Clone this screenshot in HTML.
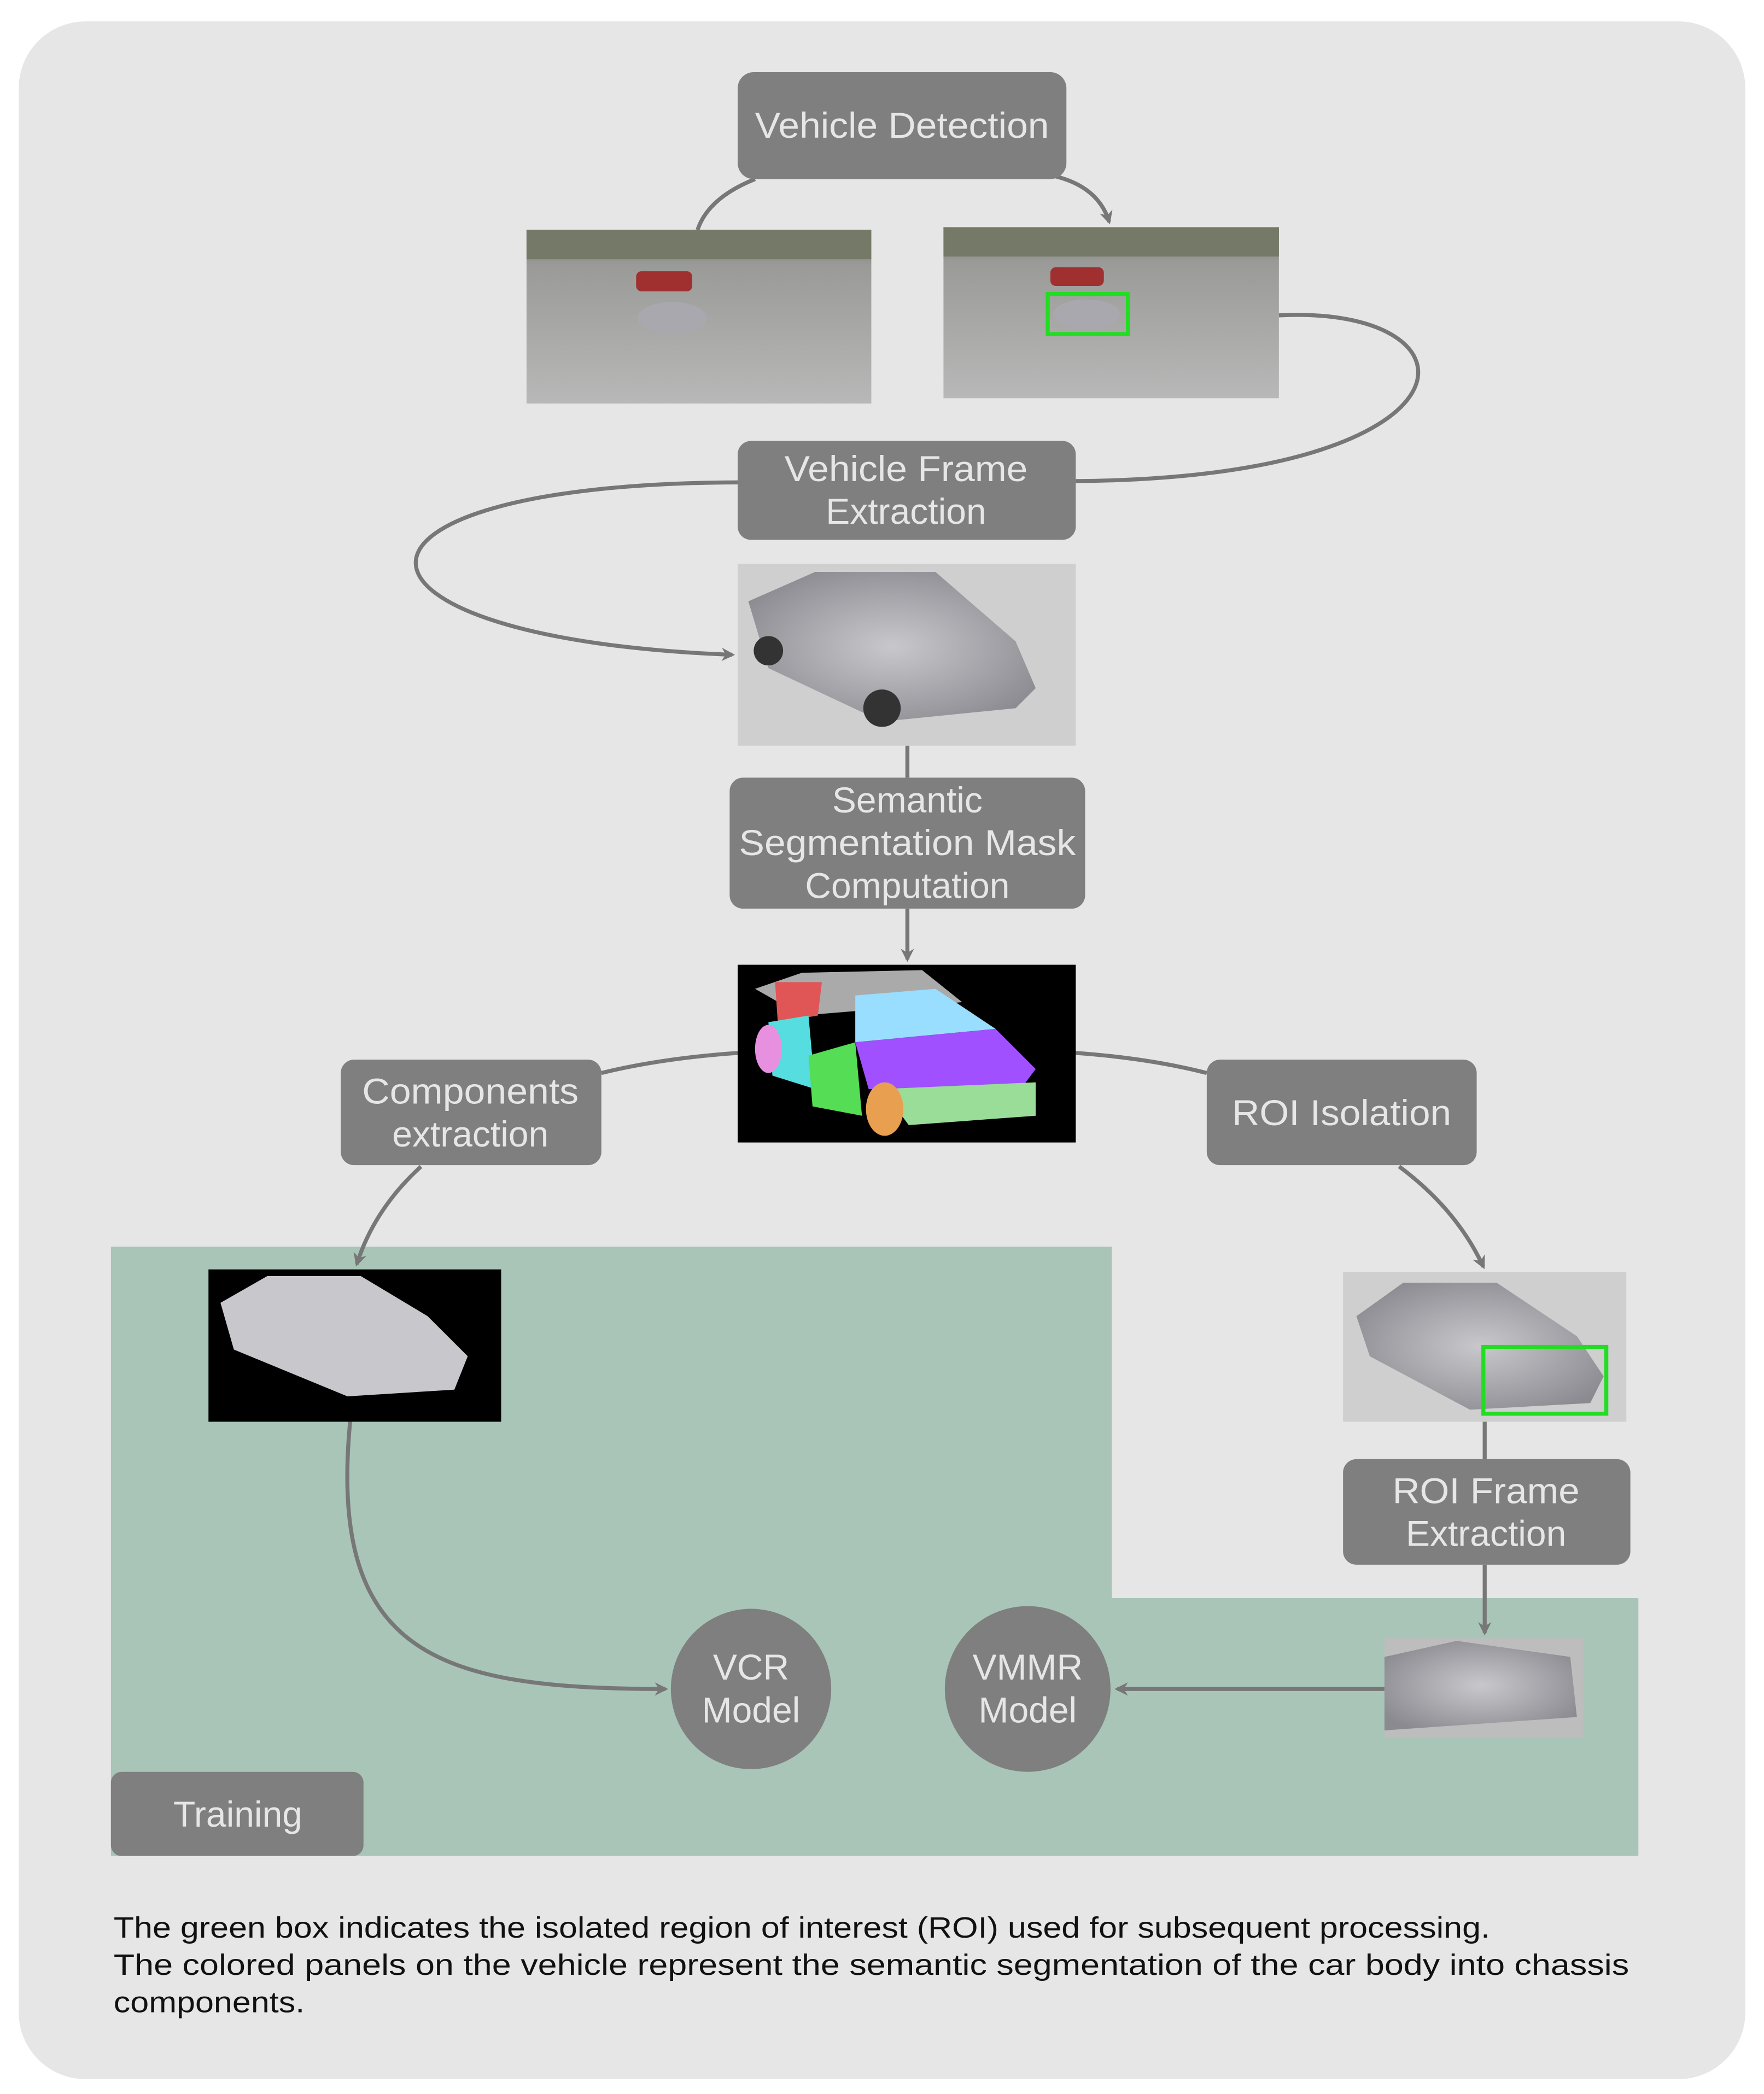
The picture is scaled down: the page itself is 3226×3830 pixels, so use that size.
<!DOCTYPE html>
<html><head><style>html,body{margin:0;padding:0;background:#fff}svg{display:block}</style></head><body>
<svg width="3226" height="3830" viewBox="0 0 1320 1567.1" xmlns="http://www.w3.org/2000/svg" font-family="Liberation Sans, sans-serif">
<defs>
<marker id="a" markerWidth="10" markerHeight="10" refX="8" refY="5" orient="auto" markerUnits="userSpaceOnUse"><path d="M0,0 L10,5 L0,10 L3,5 z" fill="#777"/></marker>
<linearGradient id="road" x1="0" y1="0" x2="0" y2="1"><stop offset="0" stop-color="#6f7560"/><stop offset="0.2" stop-color="#9a9a98"/><stop offset="1" stop-color="#b8b8b8"/></linearGradient>
<radialGradient id="car" cx="0.5" cy="0.5" r="0.6"><stop offset="0" stop-color="#c8c8cc"/><stop offset="1" stop-color="#8a8a90"/></radialGradient>
</defs>
<rect x="0" y="0" width="1320" height="1568" fill="#fff"/>
<rect x="14" y="16" width="1292" height="1540" rx="50" fill="#e6e6e6"/>
<path d="M83,933 H832 V1196 H1226 V1389 H83 Z" fill="#a8c5b8"/>

<g fill="none" stroke="#777" stroke-width="3">
<path d="M565,134 Q530,148 522,172"/>
<path d="M790,132 Q822,140 830,166" marker-end="url(#a)"/>
<path d="M957,236 C1115,228 1115,358 805,360"/>
<path d="M552,361 C228,362 235,478 548,490" marker-end="url(#a)"/>
<path d="M679,558 V582"/>
<path d="M679,680 V718" marker-end="url(#a)"/>
<path d="M552,788 Q495,792 450,803"/>
<path d="M805,788 Q860,792 903,803"/>
<path d="M315,873 Q280,905 267,946" marker-end="url(#a)"/>
<path d="M1047,873 Q1090,905 1110,948" marker-end="url(#a)"/>
<path d="M1111,1064 V1092"/>
<path d="M1111,1171 V1222" marker-end="url(#a)"/>
<path d="M1036,1264 H836" marker-end="url(#a)"/>
<path d="M262,1064 C245,1240 330,1264 498,1264" marker-end="url(#a)"/>
</g>

<g>
<rect x="394" y="172" width="258" height="130" fill="url(#road)"/>
<rect x="394" y="172" width="258" height="22" fill="#757a68"/>
<rect x="476" y="203" width="42" height="15" rx="4" fill="#a03030"/>
<ellipse cx="503" cy="238" rx="26" ry="12" fill="#a8a8ae"/>
<rect x="706" y="170" width="251" height="128" fill="url(#road)"/>
<rect x="706" y="170" width="251" height="22" fill="#757a68"/>
<rect x="786" y="200" width="40" height="14" rx="4" fill="#a03030"/>
<ellipse cx="813" cy="235" rx="25" ry="11" fill="#a8a8ae"/>
<rect x="784" y="220" width="60" height="30" fill="none" stroke="#22dd22" stroke-width="3"/>
<rect x="552" y="422" width="253" height="136" fill="#cfcfcf"/>
<path d="M560,450 L610,428 L700,428 L760,480 L775,515 L760,530 L660,540 L575,500 Z" fill="url(#car)"/>
<circle cx="660" cy="530" r="14" fill="#333"/><circle cx="575" cy="487" r="11" fill="#333"/>
<rect x="552" y="722" width="253" height="133" fill="#000"/>
<path d="M565,740 L600,728 L690,726 L720,750 L600,760 Z" fill="#aaa"/>
<path d="M580,735 L615,735 L612,760 L582,765 Z" fill="#e05555"/>
<path d="M640,745 L700,740 L745,770 L640,780 Z" fill="#99ddff"/>
<path d="M575,765 L605,760 L610,815 L578,805 Z" fill="#55dde0"/>
<path d="M605,790 L640,780 L645,835 L608,828 Z" fill="#55dd55"/>
<path d="M640,780 L745,770 L775,800 L760,820 L650,815 Z" fill="#a050ff"/>
<path d="M660,815 L775,810 L775,835 L680,842 Z" fill="#99dd99"/>
<ellipse cx="575" cy="785" rx="10" ry="18" fill="#e890e0"/>
<ellipse cx="662" cy="830" rx="14" ry="20" fill="#e8a050"/>
<rect x="156" y="950" width="219" height="114" fill="#000"/>
<path d="M165,975 L200,955 L270,955 L320,985 L350,1015 L340,1040 L260,1045 L175,1010 Z" fill="#c8c8cc"/>
<rect x="1005" y="952" width="212" height="112" fill="#cfcfcf"/>
<path d="M1015,985 L1050,960 L1120,960 L1180,1000 L1200,1030 L1190,1050 L1100,1055 L1025,1015 Z" fill="url(#car)"/>
<rect x="1110" y="1008" width="92" height="50" fill="none" stroke="#22dd22" stroke-width="3"/>
<rect x="1036" y="1226" width="149" height="74" fill="#bdbdbd"/>
<path d="M1036,1240 L1090,1228 L1175,1240 L1180,1285 L1036,1295 Z" fill="url(#car)"/>
</g>

<g fill="#7f7f7f">
<rect x="552" y="54" width="246" height="80" rx="12"/>
<rect x="552" y="330" width="253" height="74" rx="10"/>
<rect x="546" y="582" width="266" height="98" rx="10"/>
<rect x="255" y="793" width="195" height="79" rx="10"/>
<rect x="903" y="793" width="202" height="79" rx="10"/>
<rect x="1005" y="1092" width="215" height="79" rx="10"/>
<rect x="83" y="1326" width="189" height="63" rx="8"/>
<circle cx="562" cy="1264" r="60"/>
<circle cx="769" cy="1264" r="62"/>
</g>
<g fill="#e6e6e6" font-size="27" text-anchor="middle">
<text x="675" y="103" textLength="220" lengthAdjust="spacingAndGlyphs">Vehicle Detection</text>
<text x="678" y="360" textLength="182" lengthAdjust="spacingAndGlyphs">Vehicle Frame</text><text x="678" y="392">Extraction</text>
<text x="679" y="608">Semantic</text><text x="679" y="640" textLength="252" lengthAdjust="spacingAndGlyphs">Segmentation Mask</text><text x="679" y="672">Computation</text>
<text x="352" y="826" textLength="162" lengthAdjust="spacingAndGlyphs">Components</text><text x="352" y="858">extraction</text>
<text x="1004" y="842" textLength="164" lengthAdjust="spacingAndGlyphs">ROI Isolation</text>
<text x="1112" y="1125" textLength="140" lengthAdjust="spacingAndGlyphs">ROI Frame</text><text x="1112" y="1157">Extraction</text>
<text x="178" y="1367">Training</text>
<text x="562" y="1257">VCR</text><text x="562" y="1289">Model</text>
<text x="769" y="1257">VMMR</text><text x="769" y="1289">Model</text>
</g>
<g fill="#111" font-size="22">
<text x="85" y="1450" textLength="1030" lengthAdjust="spacingAndGlyphs">The green box indicates the isolated region of interest (ROI) used for subsequent processing.</text>
<text x="85" y="1478" textLength="1134" lengthAdjust="spacingAndGlyphs">The colored panels on the vehicle represent the semantic segmentation of the car body into chassis</text>
<text x="85" y="1506" textLength="143" lengthAdjust="spacingAndGlyphs">components.</text>
</g>
</svg>
</body></html>
